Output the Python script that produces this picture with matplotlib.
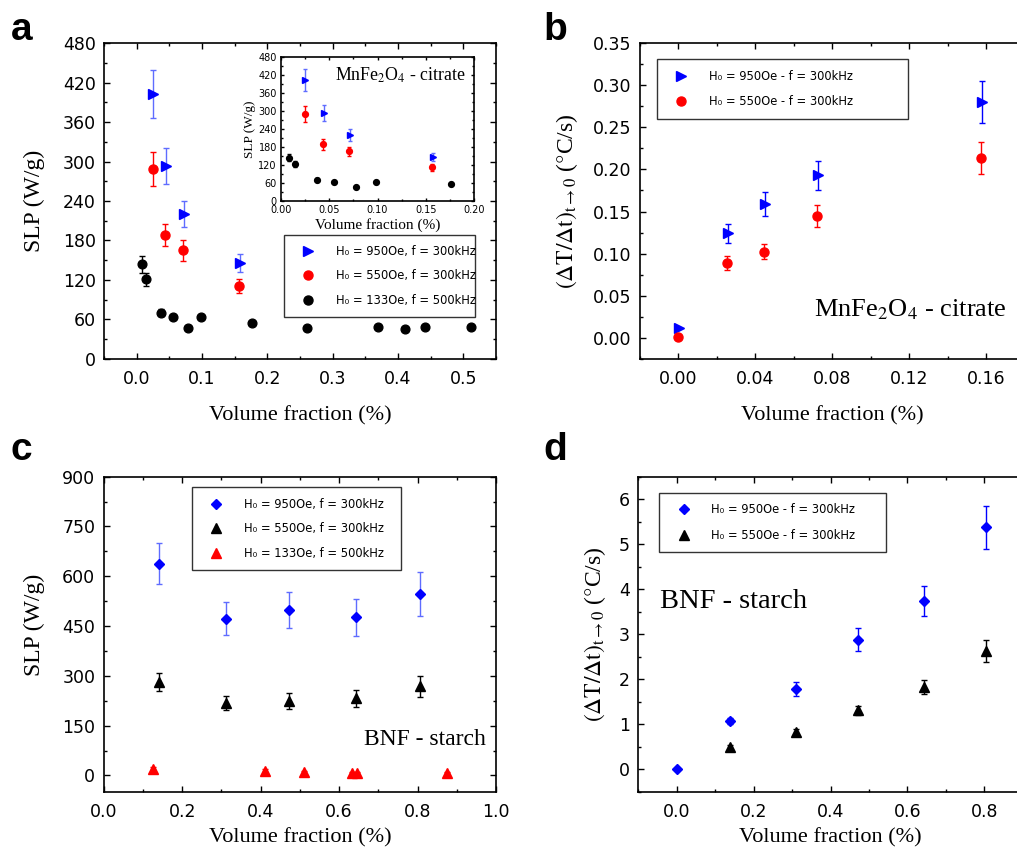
import matplotlib
matplotlib.use("Agg")
import matplotlib.pyplot as plt
from matplotlib.ticker import MultipleLocator
from matplotlib.lines import Line2D
import numpy as np

plt.rcParams['mathtext.fontset'] = 'stix'
plt.rcParams['font.family'] = 'DejaVu Sans'

SERIF = 'Liberation Serif'
BLUE = '#0000ff'
BLUE_ERR = '#5f6cff'
RED = '#ff0000'
BLACK = '#000000'

# ---------------- Panel a data (MnFe2O4 - citrate, SLP) ----------------
a_x_950 = [0.025, 0.045, 0.072, 0.158]
a_y_950 = [403, 293, 220, 146]
a_e_950 = [37, 27, 20, 14]

a_x_550 = [0.0245, 0.0434, 0.0709, 0.1566]
a_y_550 = [289, 188, 165, 111]
a_e_550 = [26, 17, 16, 11]

a_x_133 = [0.008, 0.014, 0.037, 0.055, 0.078, 0.098, 0.176, 0.260, 0.369, 0.410, 0.441, 0.512]
a_y_133 = [144, 121, 70, 63, 47, 63, 55, 47, 48, 45, 48, 49]
a_e_133 = [13, 10, 5, 0, 0, 0, 0, 0, 0, 0, 0, 0]

# ---------------- Panel b data (MnFe2O4 - citrate, heating rate) ----------------
b_x_950 = [0.0003, 0.0257, 0.0448, 0.0724, 0.158]
b_y_950 = [0.0115, 0.124, 0.159, 0.193, 0.280]
b_e_950 = [0.0, 0.011, 0.014, 0.0175, 0.025]

b_x_550 = [0.0, 0.0252, 0.0444, 0.072, 0.1576]
b_y_550 = [0.001, 0.089, 0.102, 0.145, 0.214]
b_e_550 = [0.0, 0.008, 0.009, 0.013, 0.019]

# ---------------- Panel c data (BNF - starch, SLP) ----------------
c_x_950 = [0.140, 0.312, 0.473, 0.644, 0.805]
c_y_950 = [638, 472, 499, 476, 547]
c_e_950 = [61, 49, 55, 55, 67]

c_x_550 = [0.140, 0.312, 0.473, 0.644, 0.805]
c_y_550 = [281, 218, 225, 232, 268]
c_e_550 = [27, 22, 24, 26, 32]

c_x_133 = [0.126, 0.412, 0.511, 0.633, 0.646, 0.874]
c_y_133 = [20, 14, 10, 7, 7, 7]
c_e_133 = [4, 4, 4, 3, 3, 3]

# ---------------- Panel d data (BNF - starch, heating rate) ----------------
d_x_950 = [0.0, 0.139, 0.311, 0.4725, 0.643, 0.805]
d_y_950 = [0.0, 1.08, 1.79, 2.88, 3.74, 5.38]
d_e_950 = [0.0, 0.07, 0.16, 0.26, 0.34, 0.48]

d_x_550 = [0.139, 0.311, 0.4725, 0.643, 0.805]
d_y_550 = [0.49, 0.83, 1.31, 1.83, 2.63]
d_e_550 = [0.06, 0.06, 0.09, 0.16, 0.24]

LAB_950 = 'H\u2080 = 950Oe, f = 300kHz'
LAB_550 = 'H\u2080 = 550Oe, f = 300kHz'
LAB_133 = 'H\u2080 = 133Oe, f = 500kHz'
LAB_950d = 'H\u2080 = 950Oe - f = 300kHz'
LAB_550d = 'H\u2080 = 550Oe - f = 300kHz'

W, H = 1017, 850
fig = plt.figure(figsize=(W / 100, H / 100), dpi=100)


def px_axes(l, t, r, b):
    return fig.add_axes([l / W, 1 - b / H, (r - l) / W, (b - t) / H])


def style(ax, xmaj, xmin, ymaj, ymin, fs=12.5, lmaj=4.3, lmin=2.3, xpad=8, ypad=6):
    ax.xaxis.set_major_locator(MultipleLocator(xmaj))
    ax.xaxis.set_minor_locator(MultipleLocator(xmin))
    ax.yaxis.set_major_locator(MultipleLocator(ymaj))
    ax.yaxis.set_minor_locator(MultipleLocator(ymin))
    ax.tick_params(which='both', direction='in', top=True, right=True, width=1.0)
    ax.tick_params(which='major', length=lmaj, labelsize=fs)
    ax.tick_params(axis='x', which='major', pad=xpad)
    ax.tick_params(axis='y', which='major', pad=ypad)
    ax.tick_params(which='minor', length=lmin)
    for s in ax.spines.values():
        s.set_linewidth(1.2)


def eb(ax, x, y, e, marker, color, ecolor, ms, cap=2.2):
    ax.errorbar(x, y, yerr=e, fmt=marker, color=color, ecolor=ecolor, ms=ms,
                mec=color, capsize=cap, elinewidth=1.0, capthick=1.0, zorder=3)


def legend(ax, entries, bbox, fs=8.3, spacing=1.0):
    handles = [Line2D([], [], linestyle='none', marker=m, color=c, mec=c, ms=ms)
               for (m, c, ms, _) in entries]
    labels = [lab for (_, _, _, lab) in entries]
    lg = ax.legend(handles, labels, loc='center', bbox_to_anchor=bbox, mode='expand',
                   frameon=True, fancybox=False, edgecolor='black', fontsize=fs,
                   borderpad=0.9, labelspacing=spacing, handletextpad=1.2,
                   handlelength=2.4, borderaxespad=0)
    lg.get_frame().set_linewidth(1.0)
    return lg


# ======================= Panel a =======================
axa = px_axes(104, 43.3, 496, 358.7)
eb(axa, a_x_950, a_y_950, a_e_950, '>', BLUE, BLUE_ERR, 7.5)
eb(axa, a_x_550, a_y_550, a_e_550, 'o', RED, RED, 6.5)
eb(axa, a_x_133, a_y_133, a_e_133, 'o', BLACK, BLACK, 6.3)
axa.set_xlim(-0.05, 0.55)
axa.set_ylim(0, 480)
style(axa, 0.1, 0.05, 60, 30)
axa.set_xlabel('Volume fraction (%)', family=SERIF, fontsize=16, labelpad=13)
axa.set_ylabel('SLP (W/g)', family=SERIF, fontsize=17)
axa.yaxis.set_label_coords(-0.15, 0.5)
legend(axa, [('>', BLUE, 7.5, LAB_950), ('o', RED, 6.5, LAB_550), ('o', BLACK, 6.5, LAB_133)],
       (0.459, 0.139, 0.487, 0.247))

# inset
axi = px_axes(281, 57, 474, 200.7)
eb(axi, a_x_950, a_y_950, a_e_950, '>', BLUE, BLUE_ERR, 4.5, cap=1.2)
eb(axi, a_x_550, a_y_550, a_e_550, 'o', RED, RED, 4.2, cap=1.2)
ins_x = [v for v in a_x_133 if v <= 0.2]
ins_y = a_y_133[:len(ins_x)]
ins_e = a_e_133[:len(ins_x)]
eb(axi, ins_x, ins_y, ins_e, 'o', BLACK, BLACK, 4.2, cap=1.2)
axi.set_xlim(0, 0.2)
axi.set_ylim(0, 480)
style(axi, 0.05, 0.025, 60, 30, fs=7, lmaj=2.5, lmin=1.3, xpad=3, ypad=3)
axi.set_xlabel('Volume fraction (%)', family=SERIF, fontsize=11, labelpad=2)
axi.set_ylabel('SLP (W/g)', family=SERIF, fontsize=9.5, labelpad=2)
axi.text(0.28, 0.833, r'MnFe$_2$O$_4$ - citrate', transform=axi.transAxes,
         family=SERIF, fontsize=12.8, va='baseline', ha='left')

# ======================= Panel b =======================
axb = px_axes(640, 43.3, 1024.5, 358.7)
eb(axb, b_x_950, b_y_950, b_e_950, '>', BLUE, BLUE, 7.5)
eb(axb, b_x_550, b_y_550, b_e_550, 'o', RED, RED, 6.5)
axb.set_xlim(-0.02, 0.18)
axb.set_ylim(-0.025, 0.35)
style(axb, 0.04, 0.02, 0.05, 0.025)
axb.set_xticks([0.0, 0.04, 0.08, 0.12, 0.16])
axb.set_xticklabels(['0.00', '0.04', '0.08', '0.12', '0.16'])
axb.set_yticks(np.arange(0, 0.351, 0.05))
axb.set_yticklabels(['%.2f' % v for v in np.arange(0, 0.351, 0.05)])
axb.set_xlabel('Volume fraction (%)', family=SERIF, fontsize=16, labelpad=13)
axb.set_ylabel(r'$(\Delta\mathrm{T}/\Delta\mathrm{t})_{\mathrm{t}\rightarrow 0}$ ($\degree$C/s)',
               family=SERIF, fontsize=17)
axb.yaxis.set_label_coords(-0.155, 0.5)
legend(axb, [('>', BLUE, 7.5, LAB_950d), ('o', RED, 6.5, LAB_550d)],
       (0.044, 0.763, 0.653, 0.184), spacing=1.1)
axb.text(0.453, 0.133, r'MnFe$_2$O$_4$ - citrate', transform=axb.transAxes,
         family=SERIF, fontsize=19, va='baseline', ha='left')

# ======================= Panel c =======================
axc = px_axes(103.7, 476.7, 496, 792)
eb(axc, c_x_950, c_y_950, c_e_950, 'D', BLUE, BLUE_ERR, 5.2)
eb(axc, c_x_550, c_y_550, c_e_550, '^', BLACK, BLACK, 6.5)
eb(axc, c_x_133, c_y_133, c_e_133, '^', RED, RED, 6.5)
axc.set_xlim(0, 1.0)
axc.set_ylim(-50, 900)
style(axc, 0.2, 0.1, 150, 75)
axc.set_xlabel('Volume fraction (%)', family=SERIF, fontsize=16, labelpad=5)
axc.set_ylabel('SLP (W/g)', family=SERIF, fontsize=17)
axc.yaxis.set_label_coords(-0.15, 0.53)
legend(axc, [('D', BLUE, 5.2, LAB_950), ('^', BLACK, 6.5, LAB_550), ('^', RED, 6.5, LAB_133)],
       (0.225, 0.704, 0.534, 0.262), spacing=1.0)
axc.text(0.6635, 0.149, 'BNF - starch', transform=axc.transAxes,
         family=SERIF, fontsize=17, va='baseline', ha='left')

# ======================= Panel d =======================
axd = px_axes(638.3, 476.7, 1022.8, 792)
eb(axd, d_x_950, d_y_950, d_e_950, 'D', BLUE, BLUE, 5.2)
eb(axd, d_x_550, d_y_550, d_e_550, '^', BLACK, BLACK, 6.5)
axd.set_xlim(-0.1, 0.9)
axd.set_ylim(-0.5, 6.5)
style(axd, 0.2, 0.1, 1, 0.5)
axd.set_xlabel('Volume fraction (%)', family=SERIF, fontsize=16, labelpad=5)
axd.set_ylabel(r'$(\Delta\mathrm{T}/\Delta\mathrm{t})_{\mathrm{t}\rightarrow 0}$ ($\degree$C/s)',
               family=SERIF, fontsize=17)
axd.yaxis.set_label_coords(-0.08, 0.5)
legend(axd, [('D', BLUE, 5.2, LAB_950d), ('^', BLACK, 6.5, LAB_550d)],
       (0.055, 0.765, 0.588, 0.18), spacing=1.1)
axd.text(0.0564, 0.5826, 'BNF - starch', transform=axd.transAxes,
         family=SERIF, fontsize=20.5, va='baseline', ha='left')

# panel letters
for lx, ly, s in [(11, 40, 'a'), (543, 40, 'b'), (11, 460, 'c'), (543, 460, 'd')]:
    fig.text(lx / W, 1 - ly / H, s, family='Liberation Sans', weight='bold',
             fontsize=28, va='baseline', ha='left')

fig.savefig('out.png', dpi=100)
